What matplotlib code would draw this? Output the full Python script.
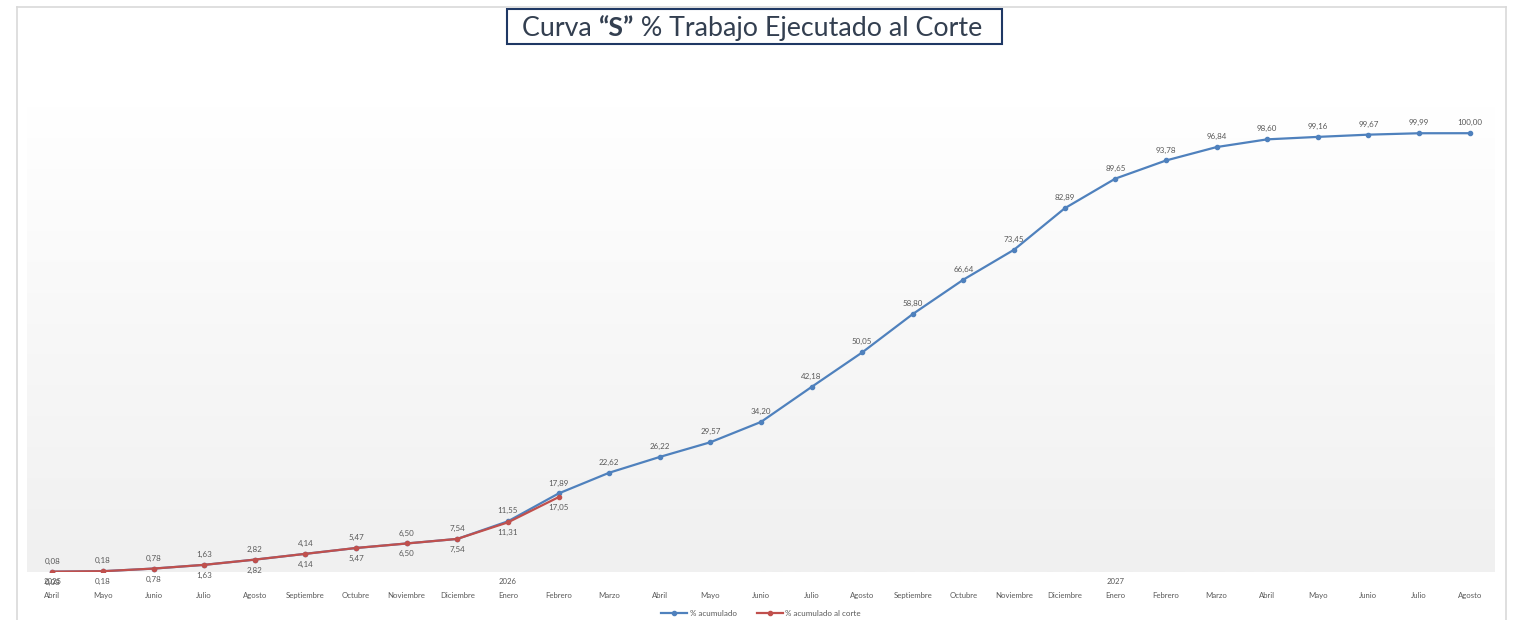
import numpy as np
import matplotlib.pyplot as plt
from matplotlib.lines import Line2D
from matplotlib.patches import Rectangle

# Datos
meses = ['Abril', 'Mayo', 'Junio', 'Julio', 'Agosto', 'Septiembre', 'Octubre', 'Noviembre', 'Diciembre',
         'Enero', 'Febrero', 'Marzo', 'Abril', 'Mayo', 'Junio', 'Julio', 'Agosto', 'Septiembre', 'Octubre',
         'Noviembre', 'Diciembre', 'Enero', 'Febrero', 'Marzo', 'Abril', 'Mayo', 'Junio', 'Julio', 'Agosto']
anios = {0: '2025', 9: '2026', 21: '2027'}
acumulado = [0.08, 0.18, 0.78, 1.63, 2.82, 4.14, 5.47, 6.50, 7.54, 11.55, 17.89, 22.62, 26.22, 29.57,
             34.20, 42.18, 50.05, 58.80, 66.64, 73.45, 82.89, 89.65, 93.78, 96.84, 98.60, 99.16, 99.67,
             99.99, 100.00]
acumulado_corte = [0.08, 0.18, 0.78, 1.63, 2.82, 4.14, 5.47, 6.50, 7.54, 11.31, 17.05]

azul = '#4f81bd'
rojo = '#c0504d'
gris_txt = '#595959'

plt.rcParams['font.family'] = ['Lato', 'DejaVu Sans']

fig = plt.figure(figsize=(15.16, 6.2), dpi=100)
W, H = 1516, 620
ax = fig.add_axes([27 / W, 1 - 572 / H, (1495 - 27) / W, (572 - 106) / H])

x = np.arange(len(acumulado))
xc = np.arange(len(acumulado_corte))

ax.set_xlim(-0.5, len(acumulado) - 0.5)
ax.set_ylim(0, 106.2)

# fondo degradado blanco -> gris
grad = np.linspace(0, 1, 256).reshape(-1, 1)
ax.imshow(grad, extent=[-0.5, len(acumulado) - 0.5, 0, 106.2], aspect='auto',
          cmap=plt.matplotlib.colors.LinearSegmentedColormap.from_list('g', ['#f0f0f0', '#ffffff']),
          origin='lower', zorder=0)

ax.plot(x, acumulado, color=azul, lw=1.6, marker='o', ms=3, label='% acumulado', zorder=3)
ax.plot(xc, acumulado_corte, color=rojo, lw=1.6, marker='o', ms=3, label='% acumulado al corte', zorder=4)

def fmt(v):
    return ('%.2f' % v).replace('.', ',')

for i, v in enumerate(acumulado):
    ax.annotate(fmt(v), (i, v), xytext=(0, 7.5), textcoords='offset points', ha='center', va='center',
                fontsize=5.8, color=gris_txt, zorder=5)
for i, v in enumerate(acumulado_corte):
    ax.annotate(fmt(v), (i, v), xytext=(0, -7.5), textcoords='offset points', ha='center', va='center',
                fontsize=5.8, color=gris_txt, zorder=5)

for s in ax.spines.values():
    s.set_visible(False)
ax.set_yticks([])
ax.set_xticks(x)
ax.set_xticklabels(meses, fontsize=5.6, color=gris_txt)
ax.tick_params(axis='x', length=0, pad=14.5)
for i, a in anios.items():
    ax.text(i, -0.013, a, transform=ax.get_xaxis_transform(), ha='center', va='top',
            fontsize=5.6, color=gris_txt)

leg = ax.legend(loc='center', bbox_to_anchor=(0.5, -0.088), ncol=2, frameon=False, fontsize=5.8,
                handlelength=3.2, columnspacing=2.5, handletextpad=0.3)
for t in leg.get_texts():
    t.set_color(gris_txt)

# marco
fc = '#d9d9d9'
fig.add_artist(Line2D([16.5 / W, 1506 / W], [1 - 6.5 / H, 1 - 6.5 / H], color=fc, lw=1.2))
fig.add_artist(Line2D([16.5 / W, 16.5 / W], [0, 1 - 6.5 / H], color=fc, lw=1.2))
fig.add_artist(Line2D([1506 / W, 1506 / W], [0, 1 - 6.5 / H], color=fc, lw=1.2))

# titulo con recuadro
fig.add_artist(Rectangle((507 / W, 1 - 44 / H), (1002 - 507) / W, (44 - 9) / H, fill=True,
                         facecolor='white', edgecolor='#1f3864', lw=1.5))
tit = '#333f50'
ty = 1 - 28.5 / H
t1 = fig.text(522 / W, ty, 'Curva ', fontsize=19.3, color=tit, va='center', ha='left')
fig.canvas.draw()
r = fig.canvas.get_renderer()
bb = t1.get_window_extent(r)
t2 = fig.text(bb.x1 / W, ty, '“S”', fontsize=19.3, color=tit, va='center', ha='left', weight='bold')
bb = t2.get_window_extent(r)
fig.text(bb.x1 / W, ty, ' % Trabajo Ejecutado al Corte', fontsize=19.3, color=tit, va='center', ha='left')

fig.savefig('out.png', dpi=100)
